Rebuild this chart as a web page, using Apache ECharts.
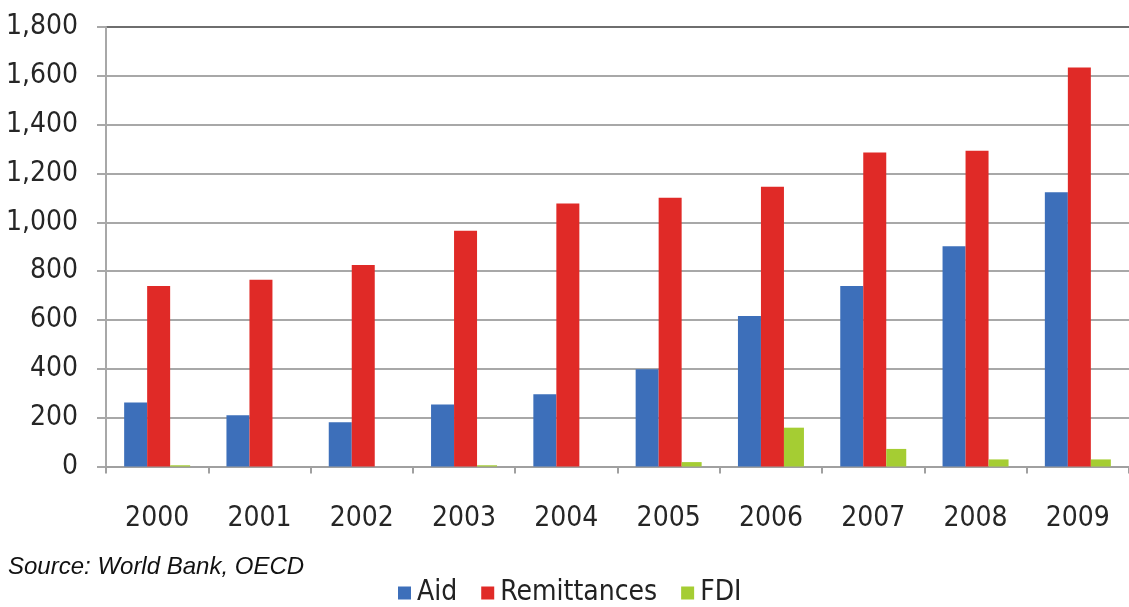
<!DOCTYPE html>
<html>
<head>
<meta charset="utf-8">
<script src="https://cdn.jsdelivr.net/npm/echarts@6/dist/echarts.min.js"></script>
<style>
  html, body { margin: 0; padding: 0; background: #fff; }
  #chart { width: 1129px; height: 607px; }
</style>
</head>
<body>
<div id="chart"></div>
<script>
var years = ['2000','2001','2002','2003','2004','2005','2006','2007','2008','2009'];
var aid = [262, 210, 181, 254, 296, 398, 616, 739, 902, 1123];
var remittances = [739, 765, 825, 966, 1077, 1101, 1146, 1286, 1293, 1634];
var fdi = [5, 0, 0, 5, 0, 18, 159, 72, 29, 29];

var labelFont = '"DejaVu Sans Condensed", sans-serif';

var chart = echarts.init(document.getElementById('chart'));

// gridlines: the top one (1,800) is drawn darker
var gridColors = ['#a8a8a8','#a8a8a8','#a8a8a8','#a8a8a8','#a8a8a8','#a8a8a8','#a8a8a8','#a8a8a8','#a8a8a8','#6e6e6e'];

var option = {
    animation: false,
    backgroundColor: '#fff',
    grid: {
        left: 106,
        top: 27,
        width: 1033,
        height: 439.5,
        containLabel: false
    },
    legend: {
        data: ['Aid', 'Remittances', 'FDI'],
        left: 398,
        top: 579,
        padding: 0,
        itemWidth: 13,
        itemHeight: 13,
        itemGap: 24,
        icon: 'rect',
        textStyle: {
            fontFamily: labelFont,
            fontSize: 28,
            color: '#222',
            padding: [0, 0, 0, 1]
        }
    },
    graphic: [{
        type: 'text',
        left: 8,
        top: 555,
        style: {
            text: 'Source: World Bank, OECD',
            font: 'italic 24px "Liberation Sans", Arial, sans-serif',
            fill: '#111'
        }
    }],
    xAxis: {
        type: 'category',
        data: years,
        axisLine: { show: true, lineStyle: { color: '#a0a0a0', width: 2 } },
        axisTick: { show: true, length: 7, lineStyle: { color: '#a0a0a0', width: 2 } },
        axisLabel: {
            margin: 38,
            fontFamily: labelFont,
            fontSize: 28,
            color: '#262626'
        }
    },
    yAxis: {
        type: 'value',
        min: 0,
        max: 1800,
        interval: 200,
        axisLine: { show: true, lineStyle: { color: '#a8a8a8', width: 2 } },
        axisTick: { show: true, length: 9, lineStyle: { color: '#a8a8a8', width: 2 } },
        splitLine: { show: true, lineStyle: { color: gridColors, width: 2 } },
        axisLabel: {
            margin: 28,
            fontFamily: labelFont,
            fontSize: 28,
            color: '#262626',
            formatter: function (v) {
                return v.toString().replace(/\B(?=(\d{3})+(?!\d))/g, ',');
            }
        }
    },
    series: [{
        name: 'Aid',
        type: 'bar',
        data: aid,
        barWidth: 23,
        barGap: '0%',
        itemStyle: { color: '#3d6fba' }
    }, {
        name: 'Remittances',
        type: 'bar',
        data: remittances,
        barWidth: 23,
        barGap: '0%',
        itemStyle: { color: '#e02a27' }
    }, {
        name: 'FDI',
        type: 'bar',
        data: fdi,
        barWidth: 20,
        barGap: '0%',
        itemStyle: { color: '#a5cd33' }
    }]
};

chart.setOption(option);
</script>
</body>
</html>
